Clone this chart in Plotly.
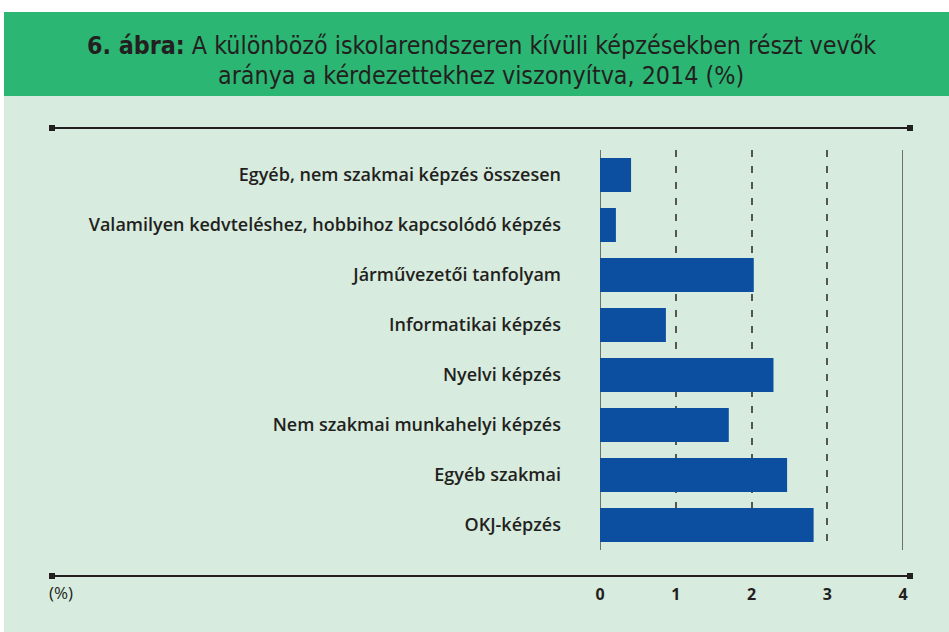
import plotly.graph_objects as go

categories = [
    "Egyéb, nem szakmai képzés összesen",
    "Valamilyen kedvteléshez, hobbihoz kapcsolódó képzés",
    "Járművezetői tanfolyam",
    "Informatikai képzés",
    "Nyelvi képzés",
    "Nem szakmai munkahelyi képzés",
    "Egyéb szakmai",
    "OKJ-képzés",
]
values = [0.41, 0.21, 2.03, 0.87, 2.29, 1.70, 2.47, 2.82]
x_ticks = [0, 1, 2, 3, 4]
title_line1_bold = "6. ábra:"
title_line1 = "A különböző iskolarendszeren kívüli képzésekben részt vevők"
title_line2 = "aránya a kérdezettekhez viszonyítva, 2014 (%)"

W, H = 949, 632
L, R, T, B = 600, 46, 150, 82
pw, ph = W - L - R, H - T - B

def px(x):
    return (x - L) / pw

def py(y):
    return (H - B - y) / ph

LABEL_FONT = "Open Sans"
TITLE_FONT = "DejaVu Sans Condensed, Liberation Sans Narrow, Lato"
dark = "#231f20"

fig = go.Figure(go.Bar(
    x=values, y=categories, orientation="h",
    marker=dict(color="#0c4ea0", line=dict(width=0)),
    width=0.68, hoverinfo="skip",
))

shapes = []
shapes.append(dict(type="rect", xref="paper", yref="paper", x0=px(4), x1=px(W + 2), y0=py(96), y1=py(H + 2), fillcolor="#d7ebde", line=dict(width=0), layer="below"))
shapes.append(dict(type="rect", xref="paper", yref="paper", x0=px(4), x1=px(W + 2), y0=py(12), y1=py(96), fillcolor="#2bb673", line=dict(width=0), layer="below"))
for yy in (128, 576):
    shapes.append(dict(type="line", xref="paper", yref="paper", x0=px(52), x1=px(910), y0=py(yy), y1=py(yy), line=dict(color=dark, width=1.8)))
    for xx in (52, 910):
        shapes.append(dict(type="rect", xref="paper", yref="paper", x0=px(xx - 3), x1=px(xx + 3), y0=py(yy - 3), y1=py(yy + 3), fillcolor=dark, line=dict(width=0)))
for xv in (0, 4):
    shapes.append(dict(type="line", xref="x", yref="paper", x0=xv, x1=xv, y0=0, y1=1, line=dict(color="#4a4a4a", width=1.5), layer="below"))

annotations = [
    dict(text=f"<b>{title_line1_bold}</b> {title_line1}",
         xref="paper", yref="paper", x=px(481), y=py(45), xanchor="center", yanchor="middle",
         showarrow=False, font=dict(family=TITLE_FONT, size=24.8, color=dark)),
    dict(text=title_line2,
         xref="paper", yref="paper", x=px(481), y=py(75), xanchor="center", yanchor="middle",
         showarrow=False, font=dict(family=TITLE_FONT, size=24.8, color=dark)),
    dict(text="(%)", xref="paper", yref="paper", x=px(61), y=py(592), xanchor="center", yanchor="middle",
         showarrow=False, font=dict(family=LABEL_FONT, size=17, color=dark)),
]

fig.update_layout(
    width=W, height=H,
    margin=dict(l=L, r=R, t=T, b=B, pad=0),
    paper_bgcolor="white",
    plot_bgcolor="rgba(0,0,0,0)",
    showlegend=False,
    shapes=shapes,
    annotations=annotations,
    xaxis=dict(
        range=[0, 4], tickvals=x_ticks, ticktext=[str(t) for t in x_ticks],
        showgrid=True, gridcolor="#555555", gridwidth=1.5, griddash="7px,9px",
        zeroline=False, showline=False, ticks="",
        tickfont=dict(family=LABEL_FONT, size=16, color=dark, weight=700),
        ticklabelstandoff=33,
    ),
    yaxis=dict(
        categoryorder="array", categoryarray=categories,
        range=[7.5, -0.5],
        showgrid=False, zeroline=False, showline=False, ticks="",
        tickfont=dict(family=LABEL_FONT, size=18, color=dark, weight=600),
        ticklabelstandoff=38,
    ),
)

fig.write_html("out.html", config={"displayModeBar": False},
               post_script="document.body.style.margin='0';document.body.style.padding='0';")
